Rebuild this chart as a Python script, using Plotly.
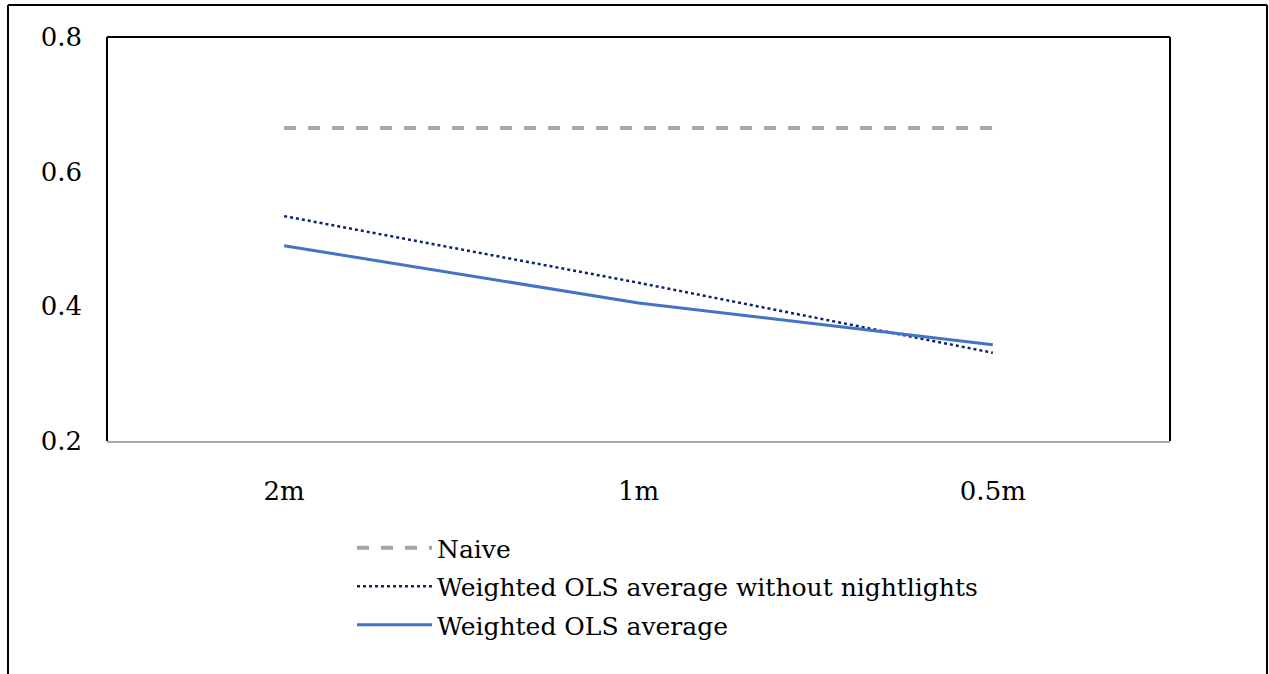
import plotly.graph_objects as go

categories = ["2m", "1m", "0.5m"]
naive = [0.665, 0.665, 0.665]
wols_no_nl = [0.534, 0.435, 0.331]
wols = [0.490, 0.405, 0.343]

FONT = "DejaVu Serif"

fig = go.Figure()
fig.add_trace(go.Scatter(x=categories, y=naive, mode="lines", name="Naive", legendgroup="a",
                         line=dict(color="#A5A5A5", width=4, dash="dash")))
fig.add_trace(go.Scatter(x=categories, y=wols_no_nl, mode="lines", legendgroup="b",
                         name="Weighted OLS average without nightlights",
                         line=dict(color="#0B2565", width=2.5, dash="dot")))
fig.add_trace(go.Scatter(x=categories, y=wols, mode="lines", name="Weighted OLS average", legendgroup="c",
                         line=dict(color="#4472C4", width=3)))

W, H = 1269, 674
L, R, T, B = 107, 1170, 37, 441
pw, ph = R - L, B - T

def px_x(p):
    return (p - L) / pw

def px_y(p):
    return (B - p) / ph

shapes = [
    dict(type="line", xref="paper", yref="paper", x0=px_x(8), x1=px_x(1267), y0=px_y(5), y1=px_y(5), line=dict(color="black", width=2)),
    dict(type="line", xref="paper", yref="paper", x0=px_x(8), x1=px_x(8), y0=px_y(5), y1=px_y(700), line=dict(color="black", width=2)),
    dict(type="line", xref="paper", yref="paper", x0=px_x(1267), x1=px_x(1267), y0=px_y(5), y1=px_y(700), line=dict(color="black", width=2)),
    dict(type="line", xref="paper", yref="paper", x0=0, x1=1, y0=1, y1=1, line=dict(color="black", width=2)),
    dict(type="line", xref="paper", yref="paper", x0=0, x1=0, y0=0, y1=1, line=dict(color="black", width=2)),
    dict(type="line", xref="paper", yref="paper", x0=1, x1=1, y0=0, y1=1, line=dict(color="black", width=2)),
]

fig.update_layout(
    width=W, height=H,
    margin=dict(l=L, r=W - R, t=T, b=H - B),
    paper_bgcolor="white", plot_bgcolor="white",
    font=dict(family=FONT, size=25, color="black"),
    shapes=shapes,
    showlegend=True,
    legend=dict(x=px_x(352), y=px_y(525), xanchor="left", yanchor="top",
                font=dict(family=FONT, size=25, color="black"),
                itemwidth=75, tracegroupgap=3, bgcolor="rgba(0,0,0,0)"),
    xaxis=dict(type="category", range=[-0.5, 2.5], showgrid=False, showline=True,
               linecolor="#A6A6A6", linewidth=2, ticks="", ticklabelstandoff=26,
               tickfont=dict(family=FONT, size=26), zeroline=False),
    yaxis=dict(range=[0.2, 0.8], tickvals=[0.2, 0.4, 0.6, 0.8], ticktext=["0.2", "0.4", "0.6", "0.8"],
               showgrid=False, showline=False, zeroline=False, ticks="", ticklabelstandoff=24,
               tickfont=dict(family=FONT, size=26)),
)

fig.write_html("out.html")
